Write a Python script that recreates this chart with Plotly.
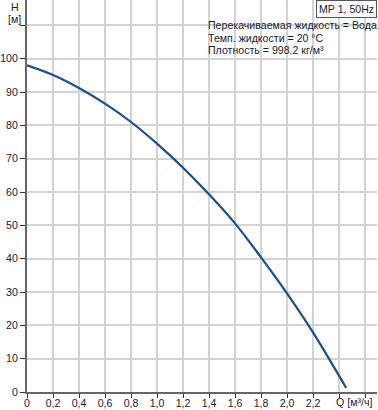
import plotly.graph_objects as go

# Data
flow_q = [0, 0.2, 0.4, 0.6, 0.8, 1.0, 1.2, 1.4, 1.6, 1.8, 2.0, 2.2, 2.4, 2.455]
head_h = [98, 95.1, 91.2, 86.5, 81, 74.5, 67.3, 59.3, 50.6, 40.4, 29.6, 17.9, 4.9, 1.2]

x_tickvals = [0, 0.2, 0.4, 0.6, 0.8, 1.0, 1.2, 1.4, 1.6, 1.8, 2.0, 2.2, 2.4, 2.6]
x_ticktext = ["0", "0,2", "0,4", "0,6", "0,8", "1,0", "1,2", "1,4", "1,6", "1,8",
              "2,0", "2,2", "", ""]
x_axis_label = "Q [м³/ч]"
y_tickvals = [0, 10, 20, 30, 40, 50, 60, 70, 80, 90, 100, 110]
y_ticktext = ["0", "10", "20", "30", "40", "50", "60", "70", "80", "90", "100", ""]

info_lines = ["Перекачиваемая жидкость = Вода",
              "Темп. жидкости = 20 °C",
              "Плотность = 998.2 кг/м³"]
title_box = "MP 1, 50Hz"

FONT = "Liberation Sans, Arial, sans-serif"
TXT = "#1a1a33"
FS = 10.6

fig = go.Figure()
fig.add_trace(go.Scatter(
    x=flow_q, y=head_h, mode="lines",
    line=dict(color="#1a4f8a", width=2.2, shape="spline", smoothing=1.0),
    hoverinfo="skip", showlegend=False))

annotations = []
annotations.append(dict(text="H", xref="paper", yref="paper", x=-0.035, y=1.0 - 7/392,
                        xanchor="center", yanchor="middle", showarrow=False,
                        font=dict(family=FONT, size=FS, color=TXT)))
annotations.append(dict(text="[м]", xref="paper", yref="paper", x=-0.035, y=1.0 - 19/392,
                        xanchor="center", yanchor="middle", showarrow=False,
                        font=dict(family=FONT, size=FS, color=TXT)))
annotations.append(dict(text=x_axis_label, xref="x", yref="paper", x=2.4, xshift=-5,
                        y=-10/392, xanchor="left", yanchor="middle", showarrow=False,
                        font=dict(family=FONT, size=FS, color=TXT)))
for i, line in enumerate(info_lines):
    annotations.append(dict(text=line, xref="paper", yref="paper",
                            x=(206 - 27) / 350, y=1.0 - (25 + 12.7 * i) / 392,
                            xanchor="left", yanchor="middle", showarrow=False,
                            font=dict(family=FONT, size=FS, color=TXT)))
annotations.append(dict(text=title_box, xref="paper", yref="paper",
                        x=1.0, y=1.0, xanchor="right", yanchor="top", showarrow=False,
                        bgcolor="white", bordercolor="#555555", borderwidth=1, borderpad=2,
                        font=dict(family=FONT, size=FS, color=TXT)))

fig.update_layout(
    width=378, height=410,
    margin=dict(l=27, r=1, t=0, b=18),
    paper_bgcolor="white", plot_bgcolor="white",
    separators=", ",
    font=dict(family=FONT, size=FS, color=TXT),
    annotations=annotations,
    xaxis=dict(range=[0, 350 / 130], tickvals=x_tickvals, ticktext=x_ticktext,
               tickangle=0, automargin=False, ticklabelstandoff=-4,
               showgrid=True, gridcolor="#d4d4d4", gridwidth=1.5,
               showline=True, linecolor="#666666", linewidth=2,
               ticks="outside", ticklen=4, tickcolor="#333333", tickwidth=1,
               zeroline=False, fixedrange=True,
               tickfont=dict(family=FONT, size=FS, color=TXT)),
    yaxis=dict(range=[0, 392 / 3.3333], tickvals=y_tickvals, ticktext=y_ticktext,
               automargin=False,
               showgrid=True, gridcolor="#d4d4d4", gridwidth=1.5,
               showline=True, linecolor="#666666", linewidth=2,
               ticks="outside", ticklen=5, tickcolor="#333333", tickwidth=1,
               zeroline=False, fixedrange=True,
               tickfont=dict(family=FONT, size=FS, color=TXT)),
)

fig.write_html("out.html", config={"displayModeBar": False})
